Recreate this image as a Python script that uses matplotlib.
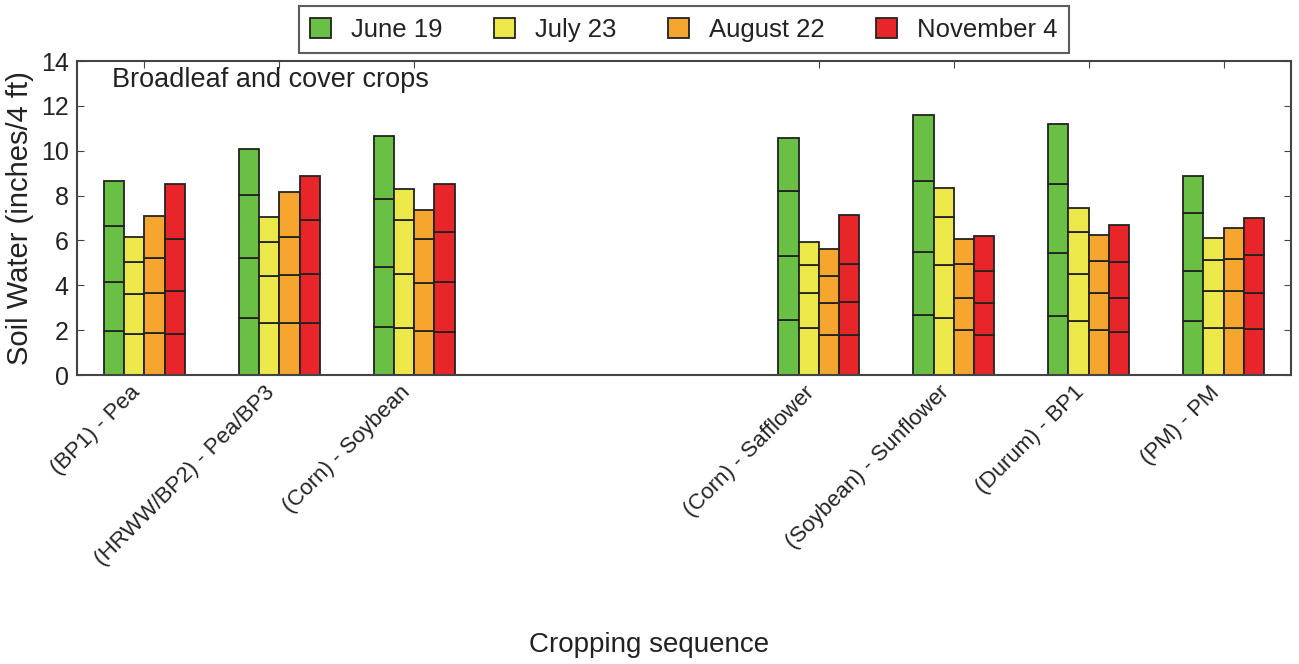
import numpy as np
import matplotlib
matplotlib.use('Agg')
import matplotlib.pyplot as plt

plt.rcParams['font.family'] = ['Liberation Sans', 'DejaVu Sans']

crops = ['(BP1) - Pea', '(HRWW/BP2) - Pea/BP3', '(Corn) - Soybean',
         '(Corn) - Safflower', '(Soybean) - Sunflower', '(Durum) - BP1', '(PM) - PM']
positions = [1, 2, 3, 6, 7, 8, 9]
dates = ['June 19', 'July 23', 'August 22', 'November 4']
colors = ['#6abf45', '#ede84a', '#f4a62f', '#e8262a']

# cumulative soil water at 1, 2, 3, 4 ft depth (inches)
june19 = [[1.96, 4.16, 6.66, 8.65],
          [2.53, 5.23, 8.02, 10.06],
          [2.15, 4.83, 7.85, 10.66],
          [2.45, 5.32, 8.22, 10.58],
          [2.67, 5.50, 8.66, 11.59],
          [2.65, 5.42, 8.52, 11.19],
          [2.42, 4.65, 7.21, 8.87]]
july23 = [[1.81, 3.60, 5.05, 6.14],
          [2.33, 4.40, 5.94, 7.04],
          [2.08, 4.50, 6.90, 8.31],
          [2.08, 3.67, 4.90, 5.91],
          [2.56, 4.90, 7.03, 8.32],
          [2.41, 4.49, 6.36, 7.46],
          [2.11, 3.76, 5.14, 6.12]]
aug22 = [[1.86, 3.64, 5.23, 7.09],
         [2.33, 4.44, 6.14, 8.14],
         [1.98, 4.12, 6.06, 7.36],
         [1.78, 3.20, 4.43, 5.60],
         [2.01, 3.45, 4.93, 6.08],
         [2.01, 3.64, 5.10, 6.26],
         [2.08, 3.76, 5.19, 6.57]]
nov4 = [[1.83, 3.74, 6.06, 8.53],
        [2.30, 4.50, 6.90, 8.87],
        [1.93, 4.16, 6.36, 8.53],
        [1.78, 3.24, 4.93, 7.12],
        [1.78, 3.20, 4.64, 6.21],
        [1.90, 3.42, 5.02, 6.69],
        [2.05, 3.64, 5.34, 6.98]]

series = [june19, july23, aug22, nov4]

fig = plt.figure(figsize=(12.99, 6.64), dpi=100)
ax = fig.add_axes([0.0593, 0.4352, 0.9345, 0.4729])

width = 0.15
x = np.array(positions, dtype=float)
for j, (data, col, lab) in enumerate(zip(series, colors, dates)):
    cum = np.array(data)
    layers = np.diff(np.hstack([np.zeros((len(cum), 1)), cum]), axis=1)
    xs = x + (j - 1.5) * width
    for k in range(4):
        ax.bar(xs, layers[:, k], width, bottom=cum[:, k] - layers[:, k],
               color=col, edgecolor='#222222', linewidth=1.3,
               label=lab if k == 0 else None, zorder=2)

ax.set_xlim(0.5, 9.5)
ax.set_ylim(0, 14)
ax.set_yticks(range(0, 15, 2))
ax.set_xticks(positions)
ax.set_xticklabels(crops, rotation=45, ha='right', fontsize=16, color='#222222')
ax.tick_params(axis='y', labelsize=18, direction='in', right=True, length=5,
               colors='#444444', labelcolor='#222222', pad=6)
ax.tick_params(axis='x', direction='in', top=True, length=5, colors='#444444',
               labelcolor='#222222', pad=5)
for s in ax.spines.values():
    s.set_color('#444444')
    s.set_linewidth(1.5)

ax.set_ylabel('Soil Water (inches/4 ft)', fontsize=21, color='#222222', labelpad=5)
ax.text(0.029, 0.94, 'Broadleaf and cover crops', transform=ax.transAxes,
        fontsize=19.5, color='#222222', va='center')
fig.text(0.5, 1 - 645 / 664, 'Cropping sequence', ha='center', va='center',
         fontsize=20, color='#222222')

leg = ax.legend(loc='lower center', bbox_to_anchor=(0.5, 1.0), ncol=4, fontsize=18.5,
                frameon=True, fancybox=False, borderaxespad=0.3, handlelength=0.8,
                handleheight=0.8, handletextpad=0.8, columnspacing=2.0,
                borderpad=0.45)
leg.get_frame().set_edgecolor('#333333')
leg.get_frame().set_linewidth(1.5)
for t in leg.get_texts():
    t.set_color('#222222')

plt.savefig('out.png', dpi=100)
